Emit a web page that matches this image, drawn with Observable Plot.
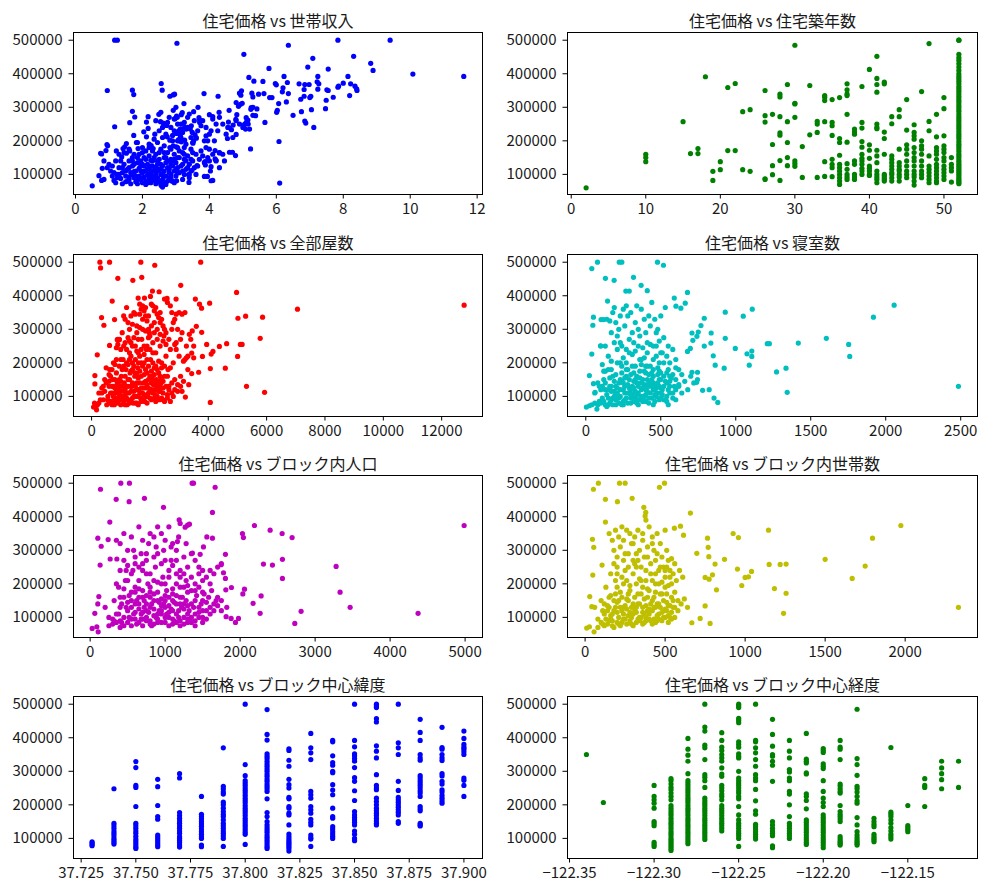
<!DOCTYPE html>
<html>
<head>
<meta charset="utf-8">
<script src="https://cdn.jsdelivr.net/npm/d3@7"></script>
<script src="https://cdn.jsdelivr.net/npm/@observablehq/plot@0.6"></script>
<style>
  html, body { margin: 0; padding: 0; background: #ffffff; }
  #board { position: relative; width: 990px; height: 888px; background: #ffffff; }
  #board svg { position: absolute; }
</style>
</head>
<body>
<div id="board"></div>
<script>
// Block-level housing sample: median house price (in thousands of dollars) against each feature.

// Median income (tens of thousands) vs price
const incomePoints = [
  [1.17,500],[1.25,500],[3.03,491],[5.03,458],[5.78,416],[6.36,485],[7.84,500],[9.40,500],[8.31,452],[7.09,446],
  [8.82,431],[8.89,410],[10.08,399],[11.6,392],[6.94,420],[7.55,414],[6.23,392],[7.24,392],[8.14,392],[5.18,389],
  [5.33,378],[5.6,377],[5.97,371],[6.0,367],[6.33,374],[6.68,370],[6.85,368],[6.98,368],[7.27,370],[7.22,376],
  [8.0,372],[8.22,370],[8.35,363],[8.4,355],[6.2,358],[6.18,346],[6.83,353],[7.24,354],[7.55,350],[7.51,352],
  [7.84,360],[7.86,363],[8.41,350],[6.36,341],[5.27,342],[5.3,331],[5.47,339],[4.96,349],[4.94,336],[4.9,342],
  [5.8,329],[5.87,329],[5.63,341],[3.84,341],[4.26,333],[6.83,333],[6.73,324],[7.0,329],[7.03,333],[7.7,330],
  [8.19,335],[7.49,321],[6.3,316],[6.07,311],[4.8,314],[4.98,312],[4.93,309],[5.3,300],[5.42,295],[5.25,299],
  [5.3,276],[4.87,303],[5.24,294],[6.03,291],[6.01,285],[7.05,293],[7.47,296],[6.5,276],[6.75,287],[4.59,291],
  [4.0,278],[4.1,272],[4.29,285],[3.53,287],[3.66,300],[3.24,311],[4.82,278],[5.1,269],[5.15,262],[5.38,275],
  [5.66,255],[6.85,259],[6.88,253],[7.12,240],[4.79,264],[4.71,247],[5.05,249],[5.08,235],[5.16,250],[4.57,256],
  [4.6,239],[4.66,233],[4.8,219],[4.54,207],[5.23,176],[6.08,198],[6.1,74],[4.6,166],[4.69,166],[4.78,156],
  [4.3,164],[4.17,171],[4.17,146],[4.2,142],[4.05,123],[4.03,110],[4.05,81],[4.1,82],[3.85,94],[3.94,94],
  [3.88,128],[3.87,138],[3.63,126],[3.48,112],[3.38,99],[3.39,76],[2.88,80],[3.02,81],[2.56,67],[2.55,71],
  [0.5,66],[0.7,96],[0.78,82],[0.85,85],[0.75,163],[0.78,161],[0.94,189],[0.96,185],[0.91,171],[0.95,350],
  [1.17,242],[1.7,351],[1.74,338],[1.7,288],[1.77,271],[1.62,254],[1.74,216],[2.17,272],[2.12,256],[2.56,371],
  [2.59,351],[2.49,279],[2.54,257],[2.62,253],[2.92,337],[2.96,339],[2.82,333],[2.92,291],[3.02,274],[3.04,270],
  [2.97,266],[3.16,278],[3.19,284],[2.72,246],[3.26,240],[3.31,235],[3.35,240],[3.46,245],[3.43,235],[3.49,225],
  [3.57,218],[3.61,208],[3.53,200],[3.51,193],[3.71,262],[3.69,269],[3.71,255],[3.13,216],[3.08,204],[3.01,182],
  [2.37,220],[2.17,237],[2.12,212],[2.04,227],[1.82,195],[1.87,177],[1.42,177],[1.38,152],[1.62,170],[1.52,163],
  [1.22,170],[1.52,192],[1.47,182],[2.26,186],[2.32,177],[2.2,180],[2.74,212],[2.82,202],[2.9,216],[3.02,222],
  [3.12,234],[3.07,228],[3.16,197],[3.26,202],[2.92,185],[2.82,180],
  [1.0,130],[1.05,110],[1.1,95],[1.15,82],[1.2,75],[1.25,100],[1.3,120],[1.35,88],[1.4,105],[1.45,130],
  [1.5,95],[1.5,78],[1.55,115],[1.6,140],[1.6,85],[1.65,72],[1.7,100],[1.7,125],[1.75,160],[1.75,90],
  [1.8,110],[1.8,78],[1.85,135],[1.85,150],[1.9,95],[1.9,118],[1.95,85],[1.95,140],[2.0,105],[2.0,165],
  [2.0,75],[2.05,125],[2.05,92],[2.1,145],[2.1,110],[2.1,80],[2.15,98],[2.15,130],[2.2,155],[2.2,88],
  [2.2,118],[2.25,75],[2.25,105],[2.3,140],[2.3,95],[2.3,125],[2.35,82],[2.35,112],[2.4,160],[2.4,100],
  [2.45,90],[2.45,130],[2.5,115],[2.5,78],[2.5,145],[2.55,100],[2.55,175],[2.6,85],[2.6,125],[2.6,62],
  [2.65,110],[2.65,150],[2.7,95],[2.7,135],[2.75,80],[2.75,165],[2.8,115],[2.8,105],[2.85,145],[2.85,90],
  [2.9,125],[2.9,200],[2.95,110],[2.95,160],[3.0,135],[3.0,95],[3.05,180],[3.05,120],[3.1,150],[3.1,105],
  [3.15,210],[3.2,130],[3.2,165],[3.25,145],[3.3,115],[3.3,190],[3.35,155],[3.4,130],[3.45,175],[3.5,140],
  [3.55,120],[3.6,160],[3.7,145],[3.75,170],[3.8,155],[3.9,180],[3.95,200],[4.0,175],[4.05,230],[4.1,160],
  [1.2,140],[1.1,125],[0.95,120],[0.85,140],[0.8,118],[1.3,160],[1.45,165],[1.6,175],[1.7,150],[2.3,170],
  [2.45,195],[2.6,210],[2.7,220],[2.75,255],[2.85,240],[2.95,265],[3.05,250],[3.15,235],[3.25,255],[3.35,270],
  [3.2,225],[3.1,200],[2.65,185],[2.5,230],[2.35,205],[2.2,190],[2.0,180],[1.85,195],[2.55,285],[2.4,260],
  [3.8,260],[3.9,240],[4.0,220],[4.1,265],[4.2,250],[3.6,210],[3.5,195],[3.9,215],[3.85,135],[3.6,100],
  [3.4,90],[3.2,85],[2.9,80],[2.7,70],[2.4,72],[2.1,70],[1.85,72],[1.6,92],[1.4,72],[1.25,90],
  [1.15,105],[1.5,110],[1.75,108],[2.0,130],[2.25,142],[2.45,110],[2.65,95],[2.85,130],[3.05,150],[3.25,100],
  [3.45,110],[3.65,125],[4.2,140],[4.3,165],[4.4,160],[4.5,220],[4.55,240],[4.7,210],[4.9,250],[5.0,240],
  [5.1,255],[5.2,235],[4.8,260],[4.4,250],[4.3,270],
  [1.55,80],[1.65,105],[1.75,130],[1.85,85],[1.95,110],[2.05,150],[2.15,75],[2.25,125],[2.35,150],[2.45,80],
  [2.55,130],[2.65,75],[2.75,120],[2.85,100],[2.95,75],[3.05,105],[3.15,125],[3.25,160],[3.35,120],[3.45,145],
  [1.6,120],[1.8,95],[2.0,90],[2.2,100],[2.4,120],[2.6,100],[2.8,90],[3.0,115],[3.2,110],[3.4,100],
  [1.7,140],[1.9,160],[2.1,170],[2.3,110],[2.5,165],[2.7,150],[2.9,140],[3.1,170],[3.3,140],[3.5,165],
  [2.15,115],[2.35,95],[2.55,115],[2.75,140],[2.95,145],[2.45,140],[2.25,88],[2.65,165],[2.85,175],[3.05,200],
  [1.4,120],[1.3,100],[1.35,140],[1.95,125],[2.05,110],[3.25,180],[3.45,210],[3.15,250],[2.95,230],[2.8,270],
  [3.0,300],[2.6,240],[3.4,280],[3.55,260],[3.65,230],[3.75,245],[3.85,200],[4.15,200],[4.25,230],[3.95,150],
  [4.3,120],[4.45,140],[4.0,140]
];

// House age (years): prices listed per age
const ageColumns = [
  [2,[60]], [10,[160,150,138]], [15,[257]], [16,[162]], [17,[177,162]], [18,[391]], [19,[109,82]],
  [20,[138,114]], [21,[359,171]], [22,[371,171]], [23,[287,114]], [24,[293,109]],
  [26,[350,275,256,87,85]], [27,[279,189,126,99]], [28,[339,331,272,224,217,141,82]],
  [29,[368,257,195,150,126]], [30,[485,312,310,270,140,132,124]], [31,[183,91]], [32,[365,218]],
  [33,[258,250,225,91]], [34,[335,330,320,257,138,94]], [35,[323,255,245,216,145,130,120,93]],
  [36,[329,207,195,157,130,120,110,100,90,80,70]], [37,[370,352,340,335,279,196,132,115,100,92,85]],
  [38,[235,227,220,140,130,100,92,85]], [39,[362,255,238,198,181,160,148,140,130,118,110,100]],
  [40,[413,188,172,148,125,118,110,100,97]],
  [41,[452,386,368,345,250,240,236,172,155,135,110,100,92,85,75]],
  [42,[375,370,226,207,160,100,95,90,85,80]], [43,[272,251,155,145,135,125,115,105,100,90,80]],
  [44,[293,272,175,135,125,115,110,100,92,80]], [45,[323,232,188,175,160,140,125,110,100,90]],
  [46,[248,225,215,205,180,165,150,140,125,110,100,92,80,68]],
  [47,[347,200,185,175,160,140,125,110,100,90]], [48,[490,258,230,155,125,115,105,95,85,75]],
  [49,[279,212,180,170,160,145,130,120,110,100,90,80,75]],
  [50,[329,296,215,185,175,165,150,140,125,115,105,95,85]], [51,[150,130,120,110,77]],
  [52,[500,500,458,448,440,430,420,410,400,392,385,378,370,362,355,348,340,332,325,318,310,302,295,288,
       280,272,265,258,250,243,236,228,220,213,206,198,190,183,176,168,160,153,146,139,132,126,120,114,
       108,102,96,90,85,80,76,72]]
];

// Total rooms vs price
const roomsPoints = [
  [285,500],[308,483],[616,500],[1688,500],[3740,500],[2166,491],[900,452],[1720,455],[1414,446],[3056,431],
  [4970,410],[707,384],[2087,414],[2315,412],[2018,398],[1813,393],[1596,393],[2588,392],[2500,390],[2896,390],
  [3557,390],[4047,378],[3700,375],[3770,363],[7058,360],[12770,372],[5280,339],[5017,333],[5861,336],[5780,273],
  [5100,255],[5160,255],[4630,257],[4380,249],[4160,234],[4100,226],[3945,255],[3774,291],[3590,309],[5005,219],
  [3800,219],[3432,229],[3432,168],[3670,172],[4070,183],[4584,184],[5310,130],[5930,112],[4070,82],[3215,98],
  [3330,135],[195,224],[113,162],[342,335],[422,312],[787,329],[616,252],[950,269],[880,269],[68,68],
  [170,60],[130,75],[113,137],[250,110],[350,125],
  [400,90],[450,115],[500,140],[520,75],[560,100],[600,130],[620,180],[650,85],[700,110],[720,150],
  [750,200],[780,75],[800,125],[830,95],[850,170],[880,140],[900,80],[920,110],[950,190],[980,130],
  [1000,75],[1020,160],[1050,100],[1080,210],[1100,85],[1120,140],[1150,120],[1180,180],[1200,95],[1220,75],
  [1250,150],[1280,110],[1300,230],[1320,170],[1350,90],[1380,130],[1400,200],[1420,80],[1450,115],[1480,160],
  [1500,250],[1520,100],[1550,140],[1580,185],[1600,75],[1620,120],[1650,220],[1680,95],[1700,160],[1720,270],
  [1750,110],[1780,140],[1800,200],[1820,85],[1850,125],[1880,240],[1900,170],[1920,100],[1950,150],[1980,290],
  [2000,120],[2020,210],[2050,90],[2080,160],[2100,260],[2120,135],[2150,185],[2180,105],[2200,230],[2220,150],
  [2250,300],[2280,120],[2300,170],[2330,90],[2350,250],[2380,140],[2400,200],[2450,110],[2480,280],[2500,160],
  [2550,220],[2600,95],[2620,180],[2650,130],[2700,240],[2750,110],[2800,200],[2850,150],[2900,260],[2950,115],
  [3000,220],[3050,160],[3100,290],[3150,145],[3200,210],[3250,250],[3300,180],
  [1100,340],[1150,330],[1200,365],[1250,320],[1300,300],[1350,340],[1400,315],[1450,350],[1500,345],[1550,290],
  [1600,270],[1650,375],[1700,360],[1750,370],[1800,355],[1850,365],[1900,325],[1950,340],[2050,375],[2100,370],
  [2150,355],[2200,365],[2250,345],[2300,335],[2350,320],[2400,330],[2450,310],[2500,300],[2550,290],[2600,380],
  [2700,370],[2750,350],[2800,320],[2850,330],[2900,345],[2950,300],[3000,350],[3100,345],[3200,350],[3050,270],
  [2900,240],[3300,220],[3350,285],[3400,270],[3450,295],[3500,250],[3500,215],[3250,215],[3150,205],[2700,185],
  [2600,160],[2500,190],[2400,185],[2300,205],[2200,190],[2100,200],[2000,240],[1900,250],[1800,225],[1700,240],
  [1600,200],[1500,210],[1400,250],[1300,265],[1200,240],[1100,250],[1000,240],[900,255],[850,210],[800,195],
  [700,180],[600,165],[500,185],[450,150],[400,130],[350,110],[300,90],[250,80],[200,75],[150,70],
  [100,80],[1050,290],[950,270],[900,270],[850,245],[1250,275],[1350,220],[1450,275],[1550,235],[1650,305],
  [1750,300],[1850,295],[1950,275],[2050,310],[2150,290],[2250,270],[2350,285],[2450,265],[2550,255],[2650,270],
  [2750,300],[2850,255],
  [600,80],[700,85],[800,90],[900,95],[1000,90],[1100,100],[1200,110],[1300,80],[1400,95],[1500,80],
  [1600,100],[1700,85],[1800,105],[1900,80],[2000,95],[2100,110],[2200,85],[2300,115],[2400,95],[2500,85],
  [2600,105],[2700,85],[2800,100],[1150,160],[1250,195],[1350,175],[1450,190],[1550,165],[1650,175],[1750,190],
  [1850,180],[1950,190],[2050,175],[2150,165],[2250,180],[2350,160],[2450,145],[2550,130],[2650,120],[2750,140],
  [2850,120],[2950,135],[3050,130],[3100,115],[1000,115],[900,135],[800,150],[700,130],[650,160],[750,100],
  [850,115],[950,105],[1050,130],[1150,100],[1250,130],[1350,115],[1450,135],[1550,120],[1650,140],[1750,125],
  [1850,145],[1950,125],[2050,140],[2150,120],[2250,130],[2350,115],[2450,125],
  [550,90],[650,110],[750,130],[850,85],[950,150],[1050,180],[1150,75],[1250,90],[1350,130],[1450,100],
  [1550,80],[1650,110],[1750,90],[1850,100],[1950,110],[2050,120],[2150,95],[2250,100],[2350,130],[2450,90],
  [600,145],[800,110],[1000,145],[1200,130],[1400,140],[1600,155],[1800,165],[2000,160],[2200,140],[2400,150],
  [700,75],[900,120],[1100,115],[1300,150],[1500,130],[1700,125],[1900,135],[2100,150],[2300,145],[1100,190],
  [1300,210],[1500,170],[1700,200],[1900,210],[2100,230],[1000,210],[1200,200],[1400,180],[1600,230],[1800,250],
  [2000,280],[1150,260],[1350,260],[1550,310],[1750,330],[1950,300],[2150,320],[2350,350],[1650,345],[1850,340]
];

// Total bedrooms vs price
const bedroomsPoints = [
  [40,481],[78,500],[223,500],[240,500],[478,500],[518,491],[131,452],[189,446],[318,455],[369,431],
  [410,415],[290,414],[267,414],[678,410],[590,393],[663,378],[930,351],[1050,339],[1110,360],[2056,372],
  [1918,336],[1604,273],[1417,259],[1210,257],[1224,257],[1753,255],[1760,219],[997,243],[1075,227],[1107,235],
  [1107,219],[930,273],[923,184],[1090,193],[1272,173],[1335,184],[1343,112],[2485,130],[850,221],[863,193],
  [834,259],[836,289],[790,333],[768,311],[741,279],[750,292],[714,267],[697,243],[678,234],[790,250],
  [708,289],[745,172],[745,150],[708,172],[855,95],[880,82],[779,118],[823,120],[739,142],
  [40,226],[24,162],[51,138],[62,112],[98,251],[51,336],[47,312],[102,329],[118,329],[145,384],
  [4,68],[24,72],[74,62],[601,369],[634,363],
  [40,75],[60,110],[80,140],[90,85],[100,120],[110,95],[120,150],[130,75],[140,105],[150,180],
  [160,130],[170,90],[180,160],[190,115],[200,75],[210,200],[220,140],[230,100],[240,170],[250,85],
  [260,130],[270,240],[280,110],[290,150],[300,80],[310,190],[320,125],[330,95],[340,160],[350,110],
  [360,210],[370,140],[380,85],[390,175],[400,120],[410,150],[420,95],[430,190],[440,130],[450,160],
  [460,105],[470,220],[480,140],[490,90],[500,170],[510,120],[520,200],[530,145],[540,100],[550,180],
  [560,130],[570,155],[580,110],[600,150],[620,135],[640,165],[660,145],[680,120],[700,160],[720,140],
  [140,330],[160,325],[170,290],[180,350],[190,365],[200,320],[210,280],[220,300],[230,340],[240,250],
  [250,360],[260,310],[270,370],[280,340],[290,230],[300,350],[310,290],[320,260],[330,320],[340,370],
  [350,300],[360,280],[370,360],[380,245],[390,330],[400,290],[410,260],[420,340],[430,310],[440,380],
  [450,250],[460,330],[470,290],[480,300],[490,265],[500,340],[510,230],[520,275],[530,365],[540,220],
  [550,250],[560,200],[580,240],[600,210],[620,180],[110,195],[100,250],[130,250],[150,220],[170,205],
  [190,260],[210,240],[230,260],[250,215],[270,200],[290,270],[310,225],[330,235],[350,250],[370,195],
  [390,215],[410,230],[430,255],[450,210],[470,250],[490,200],[500,230],[520,160],[540,170],[560,145],
  [580,165],[600,185],[620,130],[640,110],
  [60,80],[80,75],[100,80],[120,85],[140,70],[160,80],[180,75],[200,90],[220,80],[240,75],
  [260,90],[280,80],[300,95],[320,85],[340,80],[360,90],[380,100],[400,85],[420,80],[440,95],
  [460,85],[480,110],[500,95],[520,90],[540,85],[560,110],[580,95],[600,90],[150,95],[190,100],
  [230,120],[270,95],[310,105],[350,130],[390,100],[430,110],[470,125],[510,105],[550,120],[590,130],
  [250,120],[330,115],[410,135],[490,130],[290,125],[370,120],[450,140],[210,110],[170,115],[130,120],
  [90,130],[320,170],[280,180],[360,175],[400,190],[440,170],[480,185],[240,145],[200,130],[160,155],
  [120,175],[380,150],[420,165],[460,135],[500,150],[340,140],[300,165],[260,155],
  [110,130],[130,140],[150,120],[170,130],[190,145],[210,125],[230,150],[250,140],[270,160],[290,110],
  [310,130],[330,150],[350,90],[370,100],[390,135],[410,115],[430,140],[450,120],[470,100],[490,150],
  [180,95],[220,95],[260,110],[300,120],[340,105],[380,125],[420,130],[460,120],[500,110],[540,140],
  [200,165],[240,190],[280,135],[320,145],[360,155],[400,170],[440,150],[480,165],[520,130],[560,160],
  [150,75],[250,75],[350,75],[450,75],[550,75],[200,105],[300,105],[400,105],[500,125],[600,120],
  [130,175],[170,180],[230,200],[270,180],[330,190],[370,210],[410,190],[450,180],[490,175]
];

// Block population vs price
const populationPoints = [
  [138,482],[409,500],[524,500],[1360,500],[1378,500],[1667,488],[347,452],[520,445],[724,455],[978,428],
  [1631,413],[262,384],[4987,374],[2191,374],[2400,360],[2560,350],[2693,338],[2031,350],[2044,338],[102,336],
  [147,312],[240,332],[3280,252],[2431,256],[2311,259],[2564,273],[2564,216],[3333,175],[3467,130],[4373,112],
  [2813,118],[2729,82],[2267,112],[2280,164],[2173,142],[2036,170],[2058,184],[1978,97],[1938,85],[1880,97],
  [1822,130],[1813,102],[1884,189],[1809,182],[1804,216],[1778,233],[1804,288],[1747,257],[1556,340],[1631,336],
  [1511,310],[1364,292],[1467,288],[1324,378],[1267,369],[1187,391],[1164,326],[133,256],[116,162],[62,112],
  [102,140],[27,67],[89,72],[107,57],[267,274],[356,274],
  [200,130],[250,100],[300,80],[320,150],[350,110],[380,190],[400,90],[420,140],[450,75],[470,210],
  [500,120],[520,165],[550,95],[570,240],[600,140],[620,80],[650,185],[680,110],[700,260],[720,150],
  [750,90],[770,200],[800,130],[820,75],[850,170],[870,250],[900,110],[920,145],[950,85],[970,220],
  [1000,130],[1020,180],[1050,100],[1080,270],[1100,150],[1120,90],[1150,200],[1180,120],[1200,240],[1230,160],
  [1250,100],[1280,210],[1300,135],[1350,180],[1400,110],[1450,230],[1500,150],[1550,120],[1600,200],[1650,140],
  [1700,160],[1750,120],
  [350,330],[400,320],[450,350],[500,300],[550,340],[600,280],[650,370],[700,330],[750,290],[800,350],
  [850,340],[900,370],[950,350],[1000,330],[1050,370],[1100,320],[1150,300],[1200,380],[1250,280],[1300,375],
  [1350,290],[1400,270],[1450,250],[1500,240],[400,240],[450,270],[500,255],[550,230],[600,260],[650,250],
  [700,240],[750,270],[800,230],[850,280],[900,290],[950,260],[1000,270],[1050,240],[1100,255],[1150,270],
  [1200,220],[1250,230],[1300,250],[1350,220],[1400,200],[1450,190],[1500,210],[1550,220],[1600,240],[1650,230],
  [1700,250],[1750,260],
  [250,75],[300,95],[350,85],[400,70],[450,100],[500,85],[550,75],[600,95],[650,85],[700,75],
  [750,100],[800,90],[850,80],[900,95],[950,110],[1000,85],[1050,75],[1100,95],[1150,85],[1200,90],
  [1250,80],[1300,95],[1350,85],[1400,90],[1450,100],[1500,85],[1550,95],[1600,110],[1650,120],[400,130],
  [450,160],[500,145],[550,130],[600,115],[650,125],[700,115],[750,140],[800,160],[850,125],[900,175],
  [950,155],[1000,165],[1050,135],[1100,120],[1150,140],[1200,160],[1250,125],[1300,110],[1350,140],[1400,150],
  [1450,130],[1500,120],[1550,145],[1600,130],[1700,135],[1750,150],[600,190],[700,180],[800,190],[900,205],
  [1000,200],[1100,185],[1200,190],[1300,175],[350,200],[450,185],[550,175],[650,160],[750,165],[850,150],
  [950,135],[1050,160],[1150,165],[1250,190],
  [320,90],[380,110],[420,85],[480,130],[520,100],[580,110],[620,150],[680,95],[720,130],[780,115],
  [820,140],[880,100],[920,120],[980,140],[1020,110],[1080,125],[1120,145],[1180,100],[1220,130],[1280,150],
  [1320,120],[1380,130],[1420,165],[1480,140],[1520,170],[1580,160],[1620,180],[1680,150],[550,150],[650,140],
  [750,120],[850,105],[950,120],[1050,115],[1150,110],[1250,140],[1350,100],[1450,115],[600,175],[700,160],
  [800,175],[900,150],[1000,150],[1100,170],[1200,140],[1300,195],[1400,180],[1500,175],[650,210],[750,230],
  [850,210],[950,200],[1050,220],[1150,230],[500,210],[400,160],[480,240],[580,300],[680,290],[780,320],
  [880,310],[980,300],[1080,310],[1180,340],[1280,320],[1000,100],[900,85],[800,80],[700,95],[1100,80],
  [1200,75],[1300,85],[1400,75],[1500,100]
];

// Households per block vs price
const householdsPoints = [
  [52,482],[83,500],[215,500],[250,500],[465,488],[496,500],[127,452],[202,445],[294,455],[367,428],
  [379,413],[375,402],[658,411],[127,384],[558,366],[1973,374],[1796,336],[1750,253],[1500,273],[1146,360],
  [925,350],[958,338],[1256,259],[1219,258],[1150,258],[1669,216],[952,244],[1040,237],[1021,221],[1000,219],
  [979,195],[1183,186],[1256,172],[1240,112],[2333,130],[871,273],[821,182],[775,214],[796,227],[750,219],
  [812,259],[773,281],[765,336],[769,309],[698,291],[750,134],[719,97],[781,82],[667,84],[596,372],
  [615,345],[46,333],[54,309],[48,226],[29,162],[42,132],[10,68],[27,72],[56,57],[106,256],
  [60,130],[80,95],[100,150],[110,80],[120,110],[130,190],[140,135],[150,90],[160,165],[170,75],
  [180,120],[190,210],[200,145],[210,100],[220,175],[230,85],[240,130],[250,240],[260,155],[270,105],
  [280,195],[290,80],[300,140],[310,260],[320,115],[330,170],[340,90],[350,210],[360,130],[370,155],
  [380,100],[390,185],[400,125],[410,230],[420,150],[430,95],[440,200],[450,140],[460,110],[470,250],
  [480,170],[490,120],[500,190],[510,145],[520,105],[530,220],[540,160],[550,130],[560,175],[580,150],
  [600,140],[620,155],[640,130],
  [150,350],[170,330],[180,300],[190,360],[200,280],[210,340],[220,310],[230,370],[240,330],[250,290],
  [260,360],[270,250],[280,350],[290,320],[300,270],[310,340],[320,290],[330,360],[340,300],[350,250],
  [360,330],[370,280],[380,390],[390,310],[400,370],[410,260],[420,340],[430,300],[440,270],[450,350],
  [460,240],[470,320],[480,280],[490,250],[500,360],[510,300],[520,270],[530,240],[540,275],[550,230],
  [560,260],[570,210],[590,240],[610,220],
  [80,70],[100,85],[120,75],[140,80],[160,95],[180,70],[200,85],[220,75],[240,95],[260,80],
  [280,90],[300,75],[320,85],[340,100],[360,80],[380,90],[400,95],[420,80],[440,85],[460,95],
  [480,90],[500,100],[520,85],[540,95],[560,100],[120,140],[140,120],[160,105],[180,150],[200,115],
  [220,130],[240,110],[260,125],[280,115],[300,110],[320,130],[340,140],[360,115],[380,135],[400,110],
  [420,120],[440,130],[460,140],[480,115],[500,125],[520,135],[540,115],[560,130],[580,120],[200,190],
  [240,200],[280,180],[320,200],[360,190],[400,180],[440,175],[480,205],[520,195],[160,230],[200,250],
  [240,270],[300,230],[340,215],[380,240],[420,210],[460,200],[500,220],[540,200],[180,260],[230,220],
  [110,120],[130,95],[150,130],[170,110],[190,130],[210,150],[230,120],[250,135],[270,150],[290,130],
  [310,120],[330,140],[350,100],[370,110],[390,120],[410,140],[430,130],[450,105],[470,130],[490,150],
  [510,120],[530,135],[150,160],[190,170],[230,160],[270,170],[310,160],[350,170],[390,160],[430,160],
  [470,170],[510,170],[550,150],[170,90],[210,80],[250,95],[290,100],[330,95],[370,85],[410,90],
  [450,90],[490,100],[530,100],[200,230],[260,210],[320,250],[380,210],[440,230],[500,240],[270,290],
  [330,270],[390,280],[450,290],[510,250],[300,320],[360,350],[420,320]
];

// Block latitude: prices listed per latitude
const latitudeColumns = [
  [37.73,[90,86,82,78]],
  [37.74,[248,145,138,130,122,115,108,100,94,88,83]],
  [37.75,[329,311,258,252,195,145,138,130,122,115,106,98,92,86,80,74,70]],
  [37.76,[276,254,198,165,157,110,104,98,92,86,80,75]],
  [37.77,[293,280,177,168,160,152,145,137,130,122,115,105,100,94,88,80,74]],
  [37.78,[225,172,165,158,150,143,136,128,120,112,105,100,80,75]],
  [37.79,[370,255,247,238,232,208,200,190,180,172,165,155,145,138,130,122,115,108,100,76]],
  [37.80,[500,320,287,272,265,258,250,243,236,228,220,213,206,198,190,183,176,168,160,153,146,139,132,125,118,112,82]],
  [37.81,[484,410,393,352,345,338,330,322,315,307,300,292,285,277,270,262,255,248,240,218,177,165,150,140,132,125,118,110,103,96,90,83,76,70]],
  [37.82,[367,362,333,315,276,260,250,222,218,195,190,175,170,140,113,105,98,92,87,82,76,70,62]],
  [37.83,[413,370,355,335,240,230,220,195,185,175,157,148,140,110,102,98,76]],
  [37.84,[392,388,346,326,318,300,296,260,244,230,190,165,160,135,128,120,113,106,100]],
  [37.85,[500,392,373,352,346,338,330,311,281,270,242,213,180,170,162,155,148,140,122,112,100,93]],
  [37.86,[500,495,490,457,447,376,360,340,290,258,250,245,220,210,200,190,182,175,168,160,152,145,140]],
  [37.87,[500,385,370,350,270,243,222,215,208,200,193,185,178,170,150,145]],
  [37.88,[455,416,392,350,340,333,287,280,272,265,258,250,242,235,225,195,188,182,145,140,137]],
  [37.89,[431,371,366,350,340,332,293,286,270,262,245,238,228,220,212,205]],
  [37.90,[420,398,380,372,366,358,350,280,273,258,225]]
];

// Block longitude: prices listed per longitude
const longitudeColumns = [
  [-122.34,[350]],
  [-122.33,[207]],
  [-122.30,[258,225,215,205,190,150,145,138,88,82,76]],
  [-122.29,[278,272,262,252,245,235,225,215,198,190,182,175,168,160,152,145,138,130,122,115,108,100,94,88,82,76,70,64]],
  [-122.28,[398,366,348,330,293,272,265,258,250,243,236,228,220,213,206,198,190,183,176,168,160,153,146,139,132,125,118,111,104,97,90,84]],
  [-122.27,[500,432,420,378,370,335,290,282,272,252,220,212,205,198,190,183,176,168,160,153,146,139,132,125,118,111,104,97]],
  [-122.26,[415,392,372,362,350,340,330,310,292,285,258,250,242,232,225,215,198,190,183,176,168,160,152,145,138,130,122]],
  [-122.25,[500,495,490,458,452,445,388,380,372,352,345,340,300,280,272,265,258,250,242,235,225,218,195,170,155,145,138,130,122,115,108,100,76]],
  [-122.24,[500,392,388,370,355,335,315,290,280,272,246,212,182,172,142,135,128,120,112,105,98]],
  [-122.23,[455,410,375,350,345,330,318,270,150,140,130,122,115,108,78,72]],
  [-122.22,[392,360,340,305,298,280,272,240,232,200,165,145,138,130,122,115,108,100]],
  [-122.21,[413,336,330,325,295,292,233,225,213,188,155,148,140,132,125,118,110,102,95,88,82]],
  [-122.20,[368,362,356,322,315,308,272,240,220,207,195,170,162,155,148,140,132,125,118,110,102,95,88,80,72]],
  [-122.19,[392,372,366,335,262,256,248,240,235,198,180,172,165,158,150,105,98,92,88,84,80]],
  [-122.18,[485,338,320,288,255,248,238,225,212,205,162,140,120,110,102,95,90,85,80]],
  [-122.17,[160,150,142,135,112,105,100,95,90]],
  [-122.16,[371,178,172,165,155,145,132,122,112,105,98]],
  [-122.15,[198,138,132,126,120]],
  [-122.14,[278,258,252,195]],
  [-122.13,[330,310,293,275,248]],
  [-122.12,[330,252]]
];

const priceTicks = [100000, 200000, 300000, 400000, 500000];

const fromPairs = (pairs) => pairs.map(([x, k]) => ({x, price: k * 1000}));
const fromColumns = (cols) => cols.flatMap(([x, ks]) => ks.map((k) => ({x, price: k * 1000})));

const panels = [
  {title: "住宅価格 vs 世帯収入", data: fromPairs(incomePoints), color: "#0000ff",
   domain: [-0.06, 12.16], ticks: [0, 2, 4, 6, 8, 10, 12], fmt: d3.format("d")},
  {title: "住宅価格 vs 住宅築年数", data: fromColumns(ageColumns), color: "#008000",
   domain: [-0.5, 54.5], ticks: [0, 10, 20, 30, 40, 50], fmt: d3.format("d")},
  {title: "住宅価格 vs 全部屋数", data: fromPairs(roomsPoints), color: "#ff0000",
   domain: [-620, 13400], ticks: [0, 2000, 4000, 6000, 8000, 10000, 12000], fmt: d3.format("d")},
  {title: "住宅価格 vs 寝室数", data: fromPairs(bedroomsPoints), color: "#00bfbf",
   domain: [-122, 2612], ticks: [0, 500, 1000, 1500, 2000, 2500], fmt: d3.format("d")},
  {title: "住宅価格 vs ブロック内人口", data: fromPairs(populationPoints), color: "#bf00bf",
   domain: [-222, 5232], ticks: [0, 1000, 2000, 3000, 4000, 5000], fmt: d3.format("d")},
  {title: "住宅価格 vs ブロック内世帯数", data: fromPairs(householdsPoints), color: "#bfbf00",
   domain: [-110, 2452], ticks: [0, 500, 1000, 1500, 2000], fmt: d3.format("d")},
  {title: "住宅価格 vs ブロック中心緯度", data: fromColumns(latitudeColumns), color: "#0000ff",
   domain: [37.7215, 37.9085], ticks: [37.725, 37.75, 37.775, 37.8, 37.825, 37.85, 37.875, 37.9], fmt: d3.format(".3f")},
  {title: "住宅価格 vs ブロック中心経度", data: fromColumns(longitudeColumns), color: "#008000",
   domain: [-122.3512, -122.1088], ticks: [-122.35, -122.3, -122.25, -122.2, -122.15], fmt: (d) => d3.format(".2f")(d).replace("-", "\u2212")}
];

const font = "'Noto Sans CJK JP', 'Noto Sans', sans-serif";
const rowTops = [0, 222, 443, 664];
const board = document.getElementById("board");

panels.forEach((p, i) => {
  const col = i % 2, row = Math.floor(i / 2);
  const chart = Plot.plot({
    width: 495,
    height: 221,
    marginTop: 32,
    marginBottom: 27,
    marginLeft: col === 0 ? 73 : 72,
    marginRight: 13,
    style: {fontFamily: font, fontSize: "15px", color: "#1a1a1a", background: "transparent", overflow: "visible"},
    x: {domain: p.domain},
    y: {domain: [40000, 523000]},
    marks: [
      Plot.dot(p.data, {x: "x", y: "price", r: 2.6, fill: p.color}),
      Plot.frame({stroke: "#000", strokeWidth: 1}),
      Plot.axisX({ticks: p.ticks, tickFormat: p.fmt, tickSize: 4.5, tickPadding: 4, label: null, stroke: "#000", strokeWidth: 1}),
      Plot.axisY({ticks: priceTicks, tickFormat: d3.format("d"), tickSize: 4.5, tickPadding: 6.5, label: null, stroke: "#000", strokeWidth: 1}),
      Plot.text([p.title], {frameAnchor: "top", lineAnchor: "bottom", dy: -6, fontSize: 16, fill: "#1a1a1a"})
    ]
  });
  chart.style.left = (col * 495) + "px";
  chart.style.top = rowTops[row] + "px";
  board.appendChild(chart);
});
</script>
</body>
</html>
